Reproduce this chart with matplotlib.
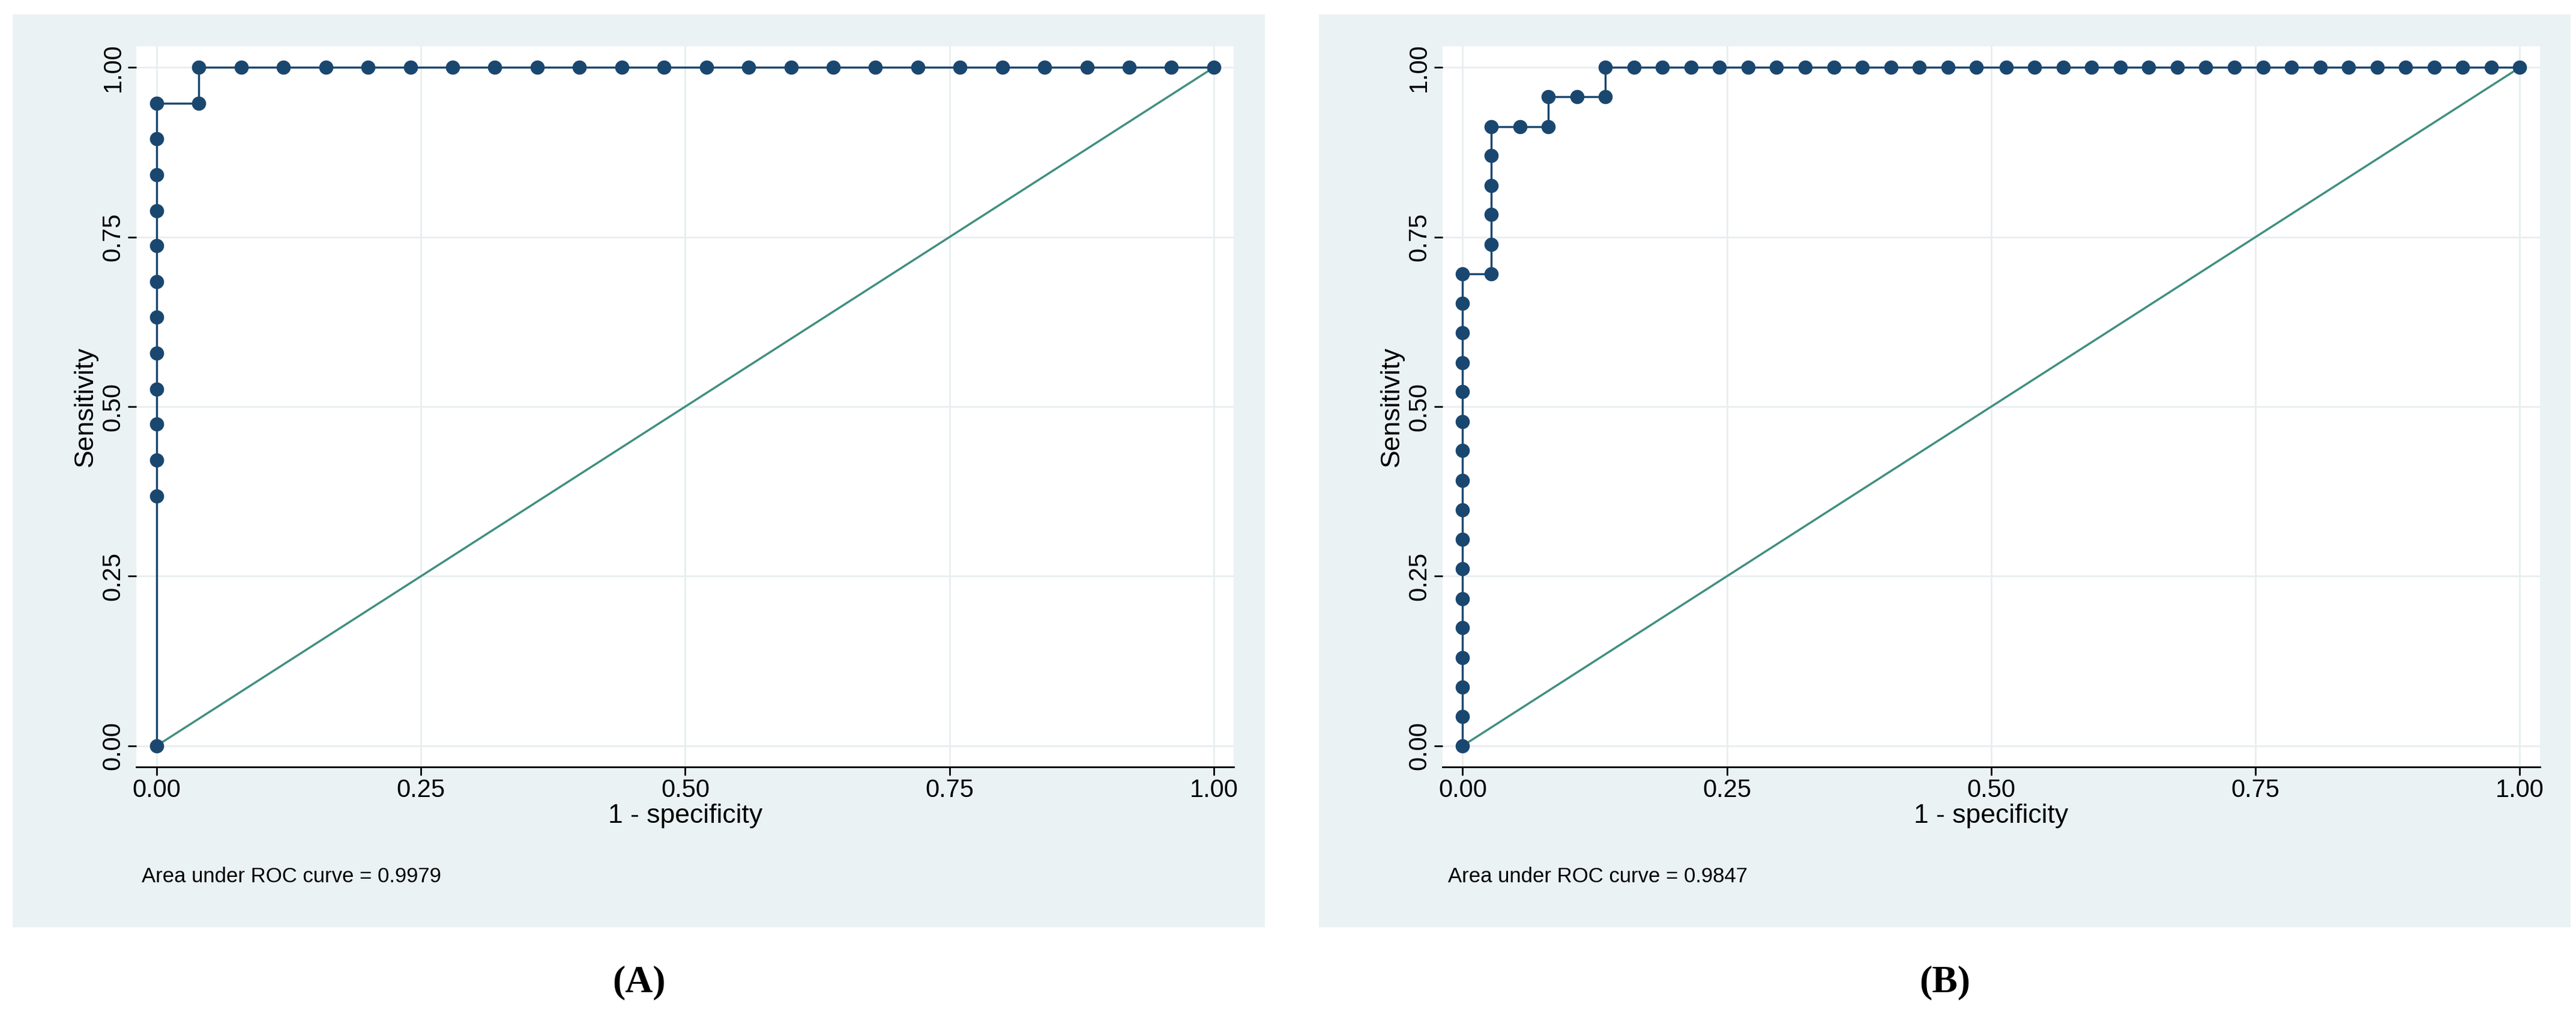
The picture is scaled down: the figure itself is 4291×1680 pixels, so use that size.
import matplotlib
matplotlib.use("Agg")
import matplotlib.pyplot as plt
from matplotlib.patches import Rectangle

# Panel A: 19 positives, 25 negatives
xA = [0]*13 + [0.04, 0.04] + [0.08,0.12,0.16,0.20,0.24,0.28,0.32,0.36,0.40,0.44,0.48,0.52,0.56,0.60,0.64,0.68,0.72,0.76,0.80,0.84,0.88,0.92,0.96,1.00]
yA = [0.0,0.368,0.421,0.474,0.526,0.579,0.632,0.684,0.737,0.789,0.842,0.895,0.947,0.947,1.0] + [1.0]*24
# Panel B: 23 positives, 37 negatives
yB_x0 = [0.0,0.043,0.087,0.130,0.174,0.217,0.261,0.304,0.348,0.391,0.435,0.478,0.522,0.565,0.609,0.652,0.696]
xB = [0]*17 + [0.027]*6 + [0.054, 0.081, 0.081, 0.108, 0.135, 0.135] + [0.162,0.189,0.216,0.243,0.270,0.297,0.324,0.351,0.378,0.405,0.432,0.459,0.486,0.514,0.541,0.568,0.595,0.622,0.649,0.676,0.703,0.730,0.757,0.784,0.811,0.838,0.865,0.892,0.919,0.946,0.973,1.0]
yB = yB_x0 + [0.696,0.739,0.783,0.826,0.870,0.913] + [0.913,0.913,0.957,0.957,0.957,1.0] + [1.0]*32
auc_labels = ["Area under ROC curve = 0.9979", "Area under ROC curve = 0.9847"]
panel_labels = ["(A)", "(B)"]
ticks = [0.0, 0.25, 0.5, 0.75, 1.0]
tick_labels = ["0.00", "0.25", "0.50", "0.75", "1.00"]

plt.rcParams['font.family'] = ['Liberation Sans', 'DejaVu Sans']
fig = plt.figure(figsize=(42.91, 16.8), dpi=100)
bg = "#EAF2F3"
navy = "#1A476F"
teal = "#3F8F7F"
for i, (xs, ys) in enumerate([(xA, yA), (xB, yB)]):
    x0 = [0.005, 0.512][i]
    fig.add_artist(Rectangle((x0, 0.081), 0.486, 0.905, transform=fig.transFigure, facecolor=bg, edgecolor="none", zorder=0))
    ax = fig.add_axes([x0 + 0.048, 0.240, 0.426, 0.714])
    ax.set_facecolor("white")
    ax.plot([0, 1], [0, 1], color=teal, lw=2.5, zorder=2)
    ax.plot(xs, ys, color=navy, lw=2.5, marker="o", ms=16, zorder=3)
    ax.set_xlim(-0.019, 1.019); ax.set_ylim(-0.031, 1.031)
    ax.set_xticks(ticks); ax.set_xticklabels(tick_labels)
    ax.set_yticks(ticks); ax.set_yticklabels(tick_labels, rotation=90, va="center")
    ax.tick_params(labelsize=30, length=10, width=2)
    ax.grid(True, color="#E8EEF0", lw=2)
    for s in ["top", "right", "left"]:
        ax.spines[s].set_visible(False)
    ax.spines["bottom"].set_linewidth(2)
    ax.set_xlabel("1 - specificity", fontsize=32, labelpad=2)
    ax.set_ylabel("Sensitivity", fontsize=32)
    fig.text(x0 + 0.050, 0.131, auc_labels[i], fontsize=25, va="center")
    fig.text(x0 + 0.243, 0.026, panel_labels[i], fontsize=46, ha="center", va="center",
             family="Liberation Serif", fontweight="bold")
fig.savefig("out.png", dpi=100, facecolor="white")
